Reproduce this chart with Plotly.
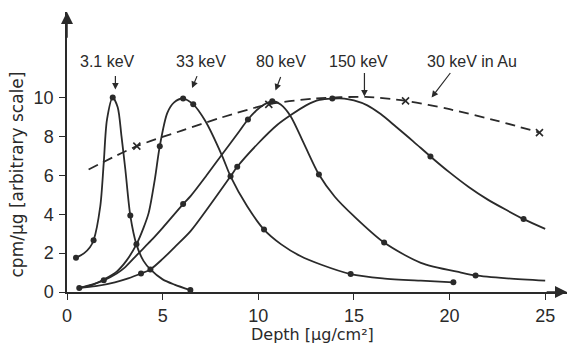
import plotly.graph_objects as go

# ---- data ----
# curve traces
kev3_x = [0.47, 0.9, 1.2, 1.39, 1.74, 1.92, 2.09, 2.39, 2.65, 2.85, 3.05, 3.31, 3.63, 4.0, 4.36, 5.0, 5.62, 6.45]
kev3_y = [1.76, 2.0, 2.3, 2.66, 4.41, 6.64, 8.87, 10.0, 9.5, 8.0, 6.3, 3.93, 2.45, 1.6, 1.16, 0.65, 0.38, 0.1]
kev3_mx = [0.47, 1.39, 2.39, 3.31, 6.45]
kev3_my = [1.76, 2.66, 10.0, 3.93, 0.1]

kev33_x = [0.64, 1.3, 1.92, 2.6, 3.1, 3.63, 4.0, 4.27, 4.59, 4.85, 5.24, 5.6, 6.07, 6.6, 7.24, 8.12, 8.55, 9.42, 10.3, 11.2, 12.2, 13.3, 14.83, 16.5, 18.5, 20.2]
kev33_y = [0.21, 0.35, 0.64, 1.05, 1.6, 2.45, 3.3, 4.07, 5.78, 7.5, 9.2, 9.75, 9.95, 9.65, 8.78, 6.98, 5.95, 4.41, 3.21, 2.45, 1.85, 1.4, 0.92, 0.7, 0.58, 0.5]
kev33_mx = [0.64, 3.63, 4.85, 6.07, 6.6, 8.55, 10.3, 14.83, 20.2]
kev33_my = [0.21, 2.45, 7.5, 9.95, 9.65, 5.95, 3.21, 0.92, 0.5]

kev80_x = [0.64, 1.3, 1.92, 2.6, 3.0, 3.7, 4.4, 5.0, 6.07, 6.46, 7.3, 8.2, 9.0, 9.46, 10.1, 10.73, 11.17, 11.69, 12.4, 13.17, 14.0, 15.0, 16.58, 18.5, 20.6, 21.36, 23.0, 25.0]
kev80_y = [0.21, 0.38, 0.6, 0.95, 1.24, 1.95, 2.65, 3.3, 4.52, 4.93, 6.0, 7.2, 8.25, 8.87, 9.5, 9.81, 9.64, 9.04, 7.6, 6.04, 4.9, 3.9, 2.54, 1.5, 1.0, 0.85, 0.7, 0.58]
kev80_mx = [1.92, 6.07, 9.46, 10.73, 13.17, 16.58, 21.36]
kev80_my = [0.6, 4.52, 8.87, 9.81, 6.04, 2.54, 0.85]

kev150_x = [0.64, 1.5, 2.5, 3.2, 3.87, 4.36, 5.0, 5.62, 6.46, 7.5, 8.55, 8.9, 10.0, 11.0, 11.7, 12.5, 13.2, 13.87, 14.5, 15.0, 15.7, 16.4, 17.2, 18.1, 19.0, 20.0, 21.0, 22.0, 23.0, 23.87, 25.0]
kev150_y = [0.21, 0.3, 0.5, 0.7, 0.95, 1.16, 1.7, 2.3, 3.13, 4.5, 5.95, 6.44, 7.65, 8.6, 9.1, 9.6, 9.88, 9.95, 9.95, 9.85, 9.6, 9.15, 8.5, 7.75, 6.97, 6.15, 5.4, 4.75, 4.2, 3.75, 3.25]
kev150_mx = [3.87, 4.36, 8.9, 13.87, 19.0, 23.87]
kev150_my = [0.95, 1.16, 6.44, 9.95, 6.97, 3.75]

au_x = [1.13, 3.65, 6.0, 8.0, 10.55, 13.0, 15.6, 17.7, 20.0, 22.5, 24.7]
au_y = [6.3, 7.5, 8.3, 8.95, 9.65, 9.95, 10.03, 9.83, 9.4, 8.8, 8.2]
au_mx = [3.65, 10.55, 17.7, 24.7]
au_my = [7.5, 9.65, 9.83, 8.2]

# label texts, text anchor points, and arrow tail/head points (data units)
labels = ["3.1 keV", "33 keV", "80 keV", "150 keV", "30 keV in Au"]
label_x = [2.12, 6.99, 11.17, 15.25, 21.19]
label_y = [11.83, 11.83, 11.83, 11.83, 11.83]
arrow_tail_x = [2.53, 6.83, 11.2, 15.55, 20.1]
arrow_tail_y = [11.18, 11.18, 11.13, 11.34, 11.34]
arrow_head_x = [2.53, 6.54, 10.9, 15.55, 19.06]
arrow_head_y = [10.41, 10.49, 10.36, 10.05, 10.0]

x_ticks = [0, 5, 10, 15, 20, 25]
y_ticks = [0, 2, 4, 6, 8, 10]

INK = "#2a2a2a"
FONT = "Liberation Sans, Arial, sans-serif"
WIDE = "DejaVu Sans, Liberation Sans, sans-serif"

fig = go.Figure()

def add_curve(x, y, mx, my, dash="solid", symbol="circle"):
    fig.add_trace(go.Scatter(x=x, y=y, mode="lines",
                             line=dict(color=INK, width=1.8, shape="spline", smoothing=0.8, dash=dash),
                             showlegend=False, hoverinfo="skip"))
    if symbol == "circle":
        mk = dict(symbol="circle", size=6, color=INK)
    else:
        mk = dict(symbol="x-thin", size=7, line=dict(color=INK, width=1.6))
    fig.add_trace(go.Scatter(x=mx, y=my, mode="markers", marker=mk,
                             showlegend=False, hoverinfo="skip"))

add_curve(kev3_x, kev3_y, kev3_mx, kev3_my)
add_curve(kev33_x, kev33_y, kev33_mx, kev33_my)
add_curve(kev80_x, kev80_y, kev80_mx, kev80_my)
add_curve(kev150_x, kev150_y, kev150_mx, kev150_my)
add_curve(au_x, au_y, au_mx, au_my, dash="10px,6px", symbol="x")

annotations = []
for t, lx, ly in zip(labels, label_x, label_y):
    annotations.append(dict(x=lx, y=ly, xref="x", yref="y", text=t, showarrow=False,
                            xanchor="center", yanchor="middle",
                            font=dict(family=FONT, size=16, color=INK)))
for tx, ty, hx, hy in zip(arrow_tail_x, arrow_tail_y, arrow_head_x, arrow_head_y):
    annotations.append(dict(x=hx, y=hy, ax=tx, ay=ty, xref="x", yref="y", axref="x", ayref="y",
                            text="", showarrow=True, arrowhead=2, arrowsize=1.1, arrowwidth=1.2,
                            arrowcolor=INK))
# axis arrow heads
annotations.append(dict(x=26.14, y=0, ax=25.0, ay=0, xref="x", yref="y", axref="x", ayref="y",
                        text="", showarrow=True, arrowhead=2, arrowsize=1.6, arrowwidth=1.5,
                        arrowcolor=INK))
annotations.append(dict(x=0, y=14.4, ax=0, ay=13.0, xref="x", yref="y", axref="x", ayref="y",
                        text="", showarrow=True, arrowhead=2, arrowsize=1.6, arrowwidth=1.5,
                        arrowcolor=INK))
# axis titles
annotations.append(dict(x=(312 - 67) / 500, y=-42 / 280, xref="paper", yref="paper",
                        xanchor="center", yanchor="middle",
                        text="Depth [μg/cm²]", showarrow=False,
                        font=dict(family=WIDE, size=16, color=INK)))
annotations.append(dict(x=-50 / 500, y=(292.5 - 175) / 280, xref="paper", yref="paper",
                        xanchor="center", yanchor="middle",
                        text="cpm/μg [arbitrary scale]", showarrow=False, textangle=-90,
                        font=dict(family=WIDE, size=17, color=INK)))

fig.update_layout(
    width=568, height=345,
    margin=dict(l=67, r=1, t=12, b=53),
    paper_bgcolor="white", plot_bgcolor="white",
    annotations=annotations,
    xaxis=dict(range=[0, 26.14], tickvals=x_ticks, ticks="outside", ticklen=6, tickwidth=1.2,
               tickcolor=INK, showline=True, linecolor=INK, linewidth=1.5, showgrid=False,
               zeroline=False, tickfont=dict(family=FONT, size=18, color=INK),
               ticklabelstandoff=1),
    yaxis=dict(range=[0, 14.4], tickvals=y_ticks, ticks="outside", ticklen=6, tickwidth=1.2,
               tickcolor=INK, showline=True, linecolor=INK, linewidth=1.5, showgrid=False,
               zeroline=False, tickfont=dict(family=FONT, size=18, color=INK),
               ticklabelstandoff=2),
)

fig.write_html("out.html")
